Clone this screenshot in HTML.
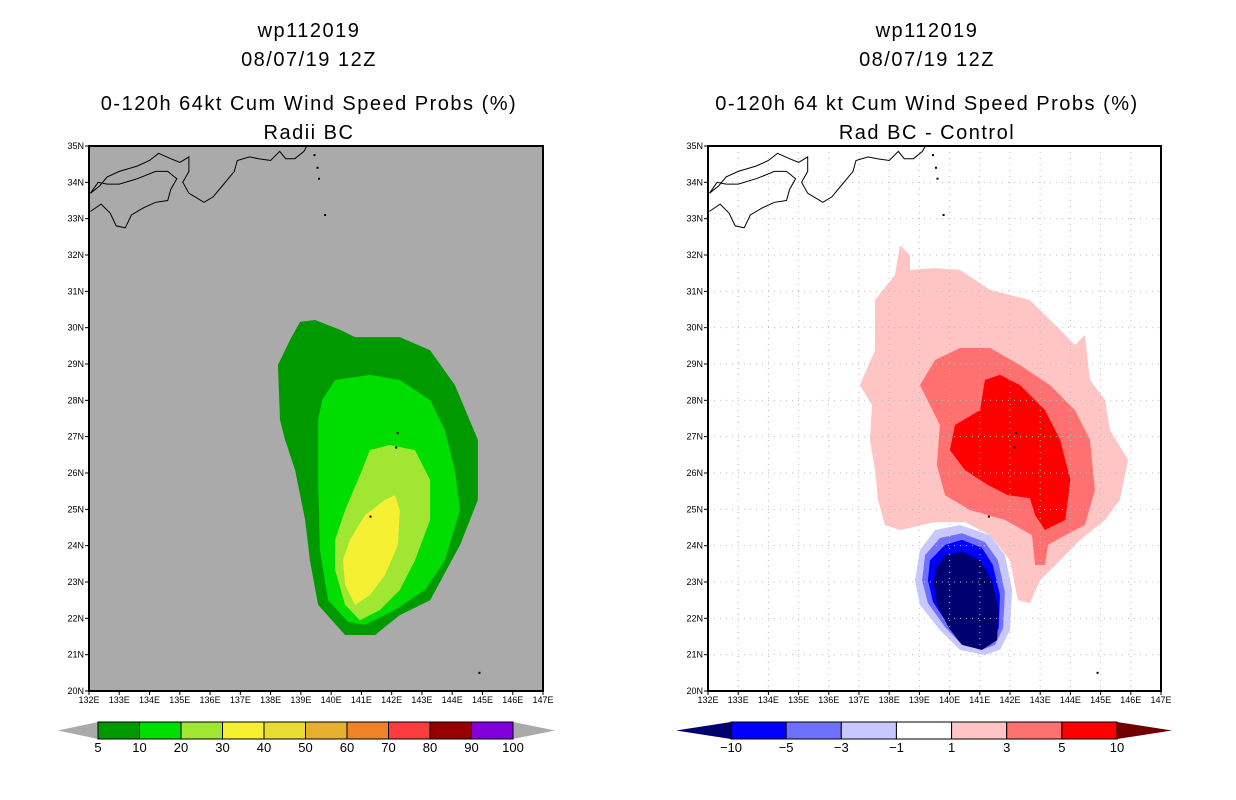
<!DOCTYPE html>
<html><head><meta charset="utf-8">
<style>
body{margin:0;background:#fff;width:1236px;height:800px;overflow:hidden;font-family:"Liberation Sans",sans-serif}
svg{display:block}
.t{font-size:20px;letter-spacing:1.5px;text-anchor:middle;fill:#000}
.ax{font-size:9px;fill:#000}
.cb{font-size:13px;fill:#000;text-anchor:middle}
</style></head><body>
<svg id="s" width="1236" height="800" xmlns="http://www.w3.org/2000/svg">
<text class="t" x="309" y="37">wp112019</text>
<text class="t" x="309" y="66">08/07/19 12Z</text>
<text class="t" x="309" y="110">0-120h 64kt Cum Wind Speed Probs (%)</text>
<text class="t" x="309" y="139">Radii BC</text>
<text class="t" x="927" y="37">wp112019</text>
<text class="t" x="927" y="66">08/07/19 12Z</text>
<text class="t" x="927" y="110">0-120h 64 kt Cum Wind Speed Probs (%)</text>
<text class="t" x="927" y="139">Rad BC - Control</text>
<g id="L"></g><g id="R"></g><g id="CB"></g>
</svg>
<script>
const NS="http://www.w3.org/2000/svg";
const lonMin=132, lonMax=147, latMin=20, latMax=35;
const leftLevels=[5,10,20,30];
const leftColors=["#009900","#00dd00","#a0e632","#f5f032"];
const left5=[[138.97,30.16],[139.47,30.21],[140.29,29.94],[140.79,29.74],[142.27,29.74],[143.27,29.38],[144.09,28.42],[144.85,26.91],[144.85,25.26],[144.26,24.02],[143.27,22.50],[142.27,22.09],[141.45,21.54],[140.46,21.54],[139.57,22.37],[139.30,23.60],[139.14,24.71],[138.81,26.08],[138.48,26.91],[138.31,27.46],[138.24,28.97],[138.64,29.66]];
const left10=[[140.13,28.56],[141.28,28.70],[142.27,28.56],[143.27,28.01],[143.76,27.18],[144.09,26.08],[144.26,24.98],[143.76,23.60],[143.10,22.78],[142.11,22.23],[141.12,21.82],[140.56,21.90],[139.90,22.50],[139.63,23.88],[139.57,25.81],[139.57,27.46],[139.70,28.01]];
const left20=[[141.28,26.63],[141.94,26.77],[142.77,26.63],[143.27,25.81],[143.27,24.71],[142.77,23.60],[142.27,22.78],[141.61,22.23],[140.95,21.95],[140.46,22.37],[140.13,23.33],[140.13,24.16],[140.46,24.98],[140.95,25.94]];
const left30=[[141.78,25.26],[142.11,25.39],[142.27,24.98],[142.21,24.02],[141.78,23.19],[141.28,22.64],[140.79,22.37],[140.46,22.92],[140.39,23.60],[140.62,24.16],[141.12,24.84]];
const rightLevels=[1,3,5,-1,-3,-5,-10];
const rightColors=["#ffc4c4","#ff7070","#ff0000","#c8c8ff","#7070ff","#0000ff","#000070"];
const rp1=[[137.53,30.76],[138.19,31.45],[138.36,32.27],[138.69,32.00],[138.69,31.59],[139.52,31.64],[140.34,31.59],[141.34,31.04],[142.66,30.76],[143.66,29.94],[144.15,29.52],[144.48,29.80],[144.65,28.56],[145.15,28.01],[145.31,27.18],[145.91,26.36],[145.64,25.26],[145.15,24.71],[144.32,24.16],[143.66,23.60],[143.00,23.05],[142.66,22.42],[142.26,22.50],[142.00,23.60],[141.34,24.29],[140.51,24.65],[139.52,24.65],[138.36,24.43],[137.86,24.57],[137.63,25.26],[137.53,26.08],[137.36,26.91],[137.43,27.87],[137.03,28.42],[137.53,29.38],[137.53,30.21]];
const rp3=[[139.02,28.42],[139.52,29.11],[140.34,29.44],[141.34,29.44],[142.33,28.97],[143.32,28.42],[144.15,27.73],[144.65,26.91],[144.81,25.53],[144.48,24.57],[143.66,24.21],[143.26,24.02],[143.16,23.47],[142.83,23.47],[142.73,24.29],[141.83,24.71],[140.68,24.98],[139.85,25.39],[139.58,26.22],[139.68,27.32]];
const rp5=[[141.17,28.56],[141.67,28.70],[142.33,28.42],[143.16,27.73],[143.66,26.91],[144.00,25.81],[143.83,24.71],[143.16,24.43],[142.83,24.84],[142.66,25.31],[141.93,25.39],[141.27,25.67],[140.51,26.08],[140.01,26.63],[140.18,27.32],[141.01,27.73]];
const rn1=[[139.02,23.88],[139.52,24.43],[140.34,24.57],[141.34,24.29],[141.83,23.74],[142.07,22.78],[142.00,21.68],[141.67,21.13],[141.17,20.99],[140.34,21.13],[139.68,21.68],[139.02,22.37],[138.85,23.05]];
const rn3=[[139.19,23.74],[139.68,24.21],[140.41,24.34],[141.17,24.10],[141.60,23.60],[141.83,22.72],[141.77,21.73],[141.50,21.27],[141.07,21.13],[140.41,21.27],[139.85,21.76],[139.28,22.42],[139.09,23.05]];
const rn5=[[139.35,23.60],[139.85,24.02],[140.41,24.16],[141.07,23.94],[141.43,23.47],[141.67,22.64],[141.63,21.73],[141.34,21.27],[141.01,21.18],[140.41,21.35],[139.95,21.82],[139.45,22.45],[139.28,23.05]];
const rn10=[[139.52,23.33],[139.85,23.74],[140.41,23.83],[141.01,23.60],[141.40,23.05],[141.63,22.23],[141.57,21.40],[141.07,21.13],[140.41,21.27],[139.98,21.73],[139.58,22.37],[139.48,22.92]];
const leftCbLabels=["5","10","20","30","40","50","60","70","80","90","100"];
const leftCbColors=["#009900","#00dd00","#a0e632","#f5f032","#e6dc32","#e6af2d","#f08228","#fa3c3c","#960000","#8200dc"];
const rightCbLabels=["-10","-5","-3","-1","1","3","5","10"];
const rightCbColors=["#0000ff","#7070ff","#c8c8ff","#ffffff","#ffc4c4","#ff7070","#ff0000"];
const coast=[[132.05,33.7],[132.35,33.9],[132.6,34.15],[133.0,34.3],[133.6,34.45],[134.0,34.6],[134.3,34.8],[134.7,34.65],[135.0,34.55],[135.3,34.7],[135.3,34.3],[135.1,34.0],[135.3,33.7],[135.8,33.45],[136.1,33.6],[136.4,33.9],[136.8,34.3],[136.9,34.6],[137.3,34.7],[137.6,34.65],[138.0,34.6],[138.3,34.85],[138.5,34.65],[138.8,34.65],[139.1,34.85],[139.2,35.0]];
const shikoku=[[132.05,33.2],[132.4,33.4],[132.7,33.15],[132.9,32.8],[133.2,32.75],[133.4,33.1],[133.8,33.3],[134.2,33.45],[134.6,33.5],[134.7,33.8],[134.9,34.1],[134.6,34.3],[134.2,34.3],[133.6,34.1],[133.0,33.95],[132.6,33.95],[132.3,34.0],[132.05,33.7]];
const islands=[[139.45,34.75],[139.55,34.4],[139.6,34.1],[139.8,33.1],[142.15,26.7],[142.2,27.1],[141.3,24.8],[144.9,20.5]];

function mk(tag,attrs,parent){const e=document.createElementNS(NS,tag);for(const k in attrs)e.setAttribute(k,attrs[k]);parent.appendChild(e);return e;}
function plot(g,x0,x1,y0,y1,bg,polys,colors,names,grid){
  const X=lon=>x0+(lon-lonMin)/(lonMax-lonMin)*(x1-x0);
  const Y=lat=>y1-(lat-latMin)/(latMax-latMin)*(y1-y0);
  const bgr=mk("rect",{x:x0,y:y0,width:x1-x0,height:y1-y0,fill:bg},g);
  
  
  polys.forEach((p,i)=>{
    const el=mk("polygon",{points:p.map(q=>X(q[0]).toFixed(1)+","+Y(q[1]).toFixed(1)).join(" "),fill:colors[i]},g);
    
    
  });
  if(grid){for(let v=133;v<147;v++){mk("line",{x1:X(v),x2:X(v),y1:y0,y2:y1,stroke:"#bbb","stroke-dasharray":"1,5"},g);}
    for(let v=21;v<35;v++){mk("line",{x1:x0,x2:x1,y1:Y(v),y2:Y(v),stroke:"#bbb","stroke-dasharray":"1,5"},g);}}
  [coast,shikoku].forEach(c=>{const el=mk("polyline",{points:c.map(q=>X(q[0]).toFixed(1)+","+Y(q[1]).toFixed(1)).join(" "),fill:"none",stroke:"#000","stroke-width":1},g);
    
    });
  islands.forEach(q=>{mk("rect",{x:X(q[0])-1,y:Y(q[1])-1,width:2,height:2,fill:"#000"},g);});
  const fr=mk("rect",{x:x0,y:y0,width:x1-x0,height:y1-y0,fill:"none",stroke:"#000","stroke-width":2},g);
  
  
  for(let v=latMin;v<=latMax;v++){
    mk("line",{x1:x0-4,x2:x0,y1:Y(v),y2:Y(v),stroke:"#000"},g);
    const t=mk("text",{x:x0-5,y:Y(v)+3,"text-anchor":"end",class:"ax"},g);t.textContent=v+"N";
    
    
  }
  for(let v=lonMin;v<=lonMax;v++){
    mk("line",{x1:X(v),x2:X(v),y1:y1,y2:y1+4,stroke:"#000"},g);
    const t=mk("text",{x:X(v),y:y1+12,"text-anchor":"middle",class:"ax"},g);t.textContent=v+"E";
    
    
  }
}
plot(document.getElementById("L"),89,543,146,691,"#aaaaaa",[left5,left10,left20,left30],leftColors,["prob-5","prob-10","prob-20","prob-30"],false);
plot(document.getElementById("R"),708,1161,146,691,"#ffffff",[rp1,rp3,rp5,rn1,rn3,rn5,rn10],rightColors,["diff-pos-1","diff-pos-3","diff-pos-5","diff-neg-1","diff-neg-3","diff-neg-5","diff-neg-10"],true);

function colorbar(g,tipL,bx0,bx1,tipR,y0,y1,cols,labels,lc,rc,name){
  const w=(bx1-bx0)/cols.length, ym=(y0+y1)/2;
  const a=mk("polygon",{points:`${tipL},${ym} ${bx0},${y0} ${bx0},${y1}`,fill:lc},g);
  
  
  const b=mk("polygon",{points:`${tipR},${ym} ${bx1},${y0} ${bx1},${y1}`,fill:rc},g);
  
  
  cols.forEach((c,i)=>{
    const r=mk("rect",{x:bx0+i*w,y:y0,width:w,height:y1-y0,fill:c,stroke:"#000","stroke-width":1},g);
    
    
  });
  labels.forEach((l,i)=>{
    const t=mk("text",{x:bx0+i*w,y:y1+13,class:"cb"},g);t.textContent=l.replace("-","\u2212");
    
    
  });
}
colorbar(document.getElementById("CB"),58,98,513,555,722,739,leftCbColors,leftCbLabels,"#aaaaaa","#aaaaaa","left-colorbar");
colorbar(document.getElementById("CB"),676,731,1117,1172,722,739,rightCbColors,rightCbLabels,"#000070","#700000","right-colorbar");
</script>
</body></html>
